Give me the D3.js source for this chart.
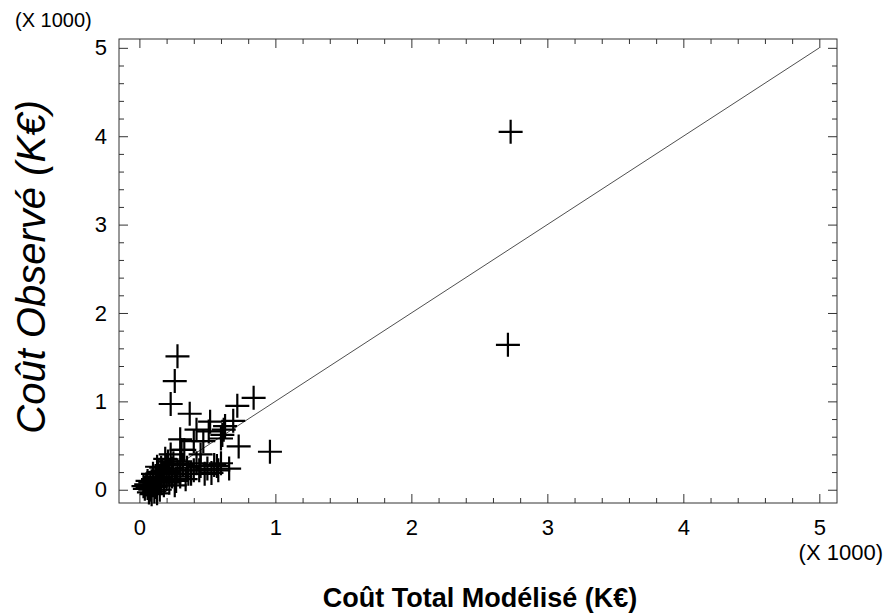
<!DOCTYPE html>
<html>
<head>
<meta charset="utf-8">
<script src="https://cdn.jsdelivr.net/npm/d3@7"></script>
<style>
  body { margin: 0; background: #fff; }
  text { font-family: Arial, "Liberation Sans", sans-serif; fill: #000; }
</style>
</head>
<body>
<div id="chart"></div>
<script>
// modelled total cost (x, thousands of K€) and observed cost (y)
const modelled = [
  2.73, 2.71,
  0.28, 0.26, 0.23, 0.37, 0.72, 0.84, 0.96, 0.69, 0.73, 0.66,
  0.51, 0.61, 0.62, 0.60, 0.63, 0.30, 0.40, 0.31, 0.45, 0.52, 0.42,
  0.35, 0.40, 0.45, 0.50, 0.55, 0.58, 0.42, 0.48, 0.38, 0.53, 0.60,
  0.03, 0.05, 0.06, 0.08, 0.08, 0.10, 0.10, 0.12, 0.12, 0.14, 0.14,
  0.16, 0.16, 0.18, 0.18, 0.20, 0.20, 0.22, 0.22, 0.24, 0.25, 0.27,
  0.28, 0.30, 0.30, 0.07, 0.09, 0.11, 0.13, 0.04, 0.06, 0.15, 0.19,
  0.23, 0.26, 0.32, 0.34, 0.33, 0.21, 0.17, 0.13, 0.36, 0.44, 0.57,
  0.10, 0.15, 0.24, 0.47
];
const observed = [
  4.05, 1.64,
  1.51, 1.23, 0.97, 0.86, 0.95, 1.04, 0.43, 0.78, 0.49, 0.24,
  0.66, 0.62, 0.68, 0.58, 0.72, 0.57, 0.55, 0.45, 0.40, 0.77, 0.68,
  0.25, 0.22, 0.27, 0.24, 0.28, 0.22, 0.30, 0.18, 0.18, 0.19, 0.30,
  0.04, 0.06, 0.02, 0.00, 0.08, 0.05, 0.12, 0.03, 0.15, 0.08, 0.20,
  0.10, 0.25, 0.05, 0.18, 0.12, 0.28, 0.08, 0.20, 0.15, 0.30, 0.10,
  0.22, 0.15, 0.32, -0.03, -0.05, -0.02, -0.04, 0.01, 0.10, 0.00, 0.35,
  0.40, 0.05, 0.28, 0.12, 0.45, 0.32, 0.22, 0.26, 0.18, 0.22, 0.27,
  0.18, 0.14, 0.24, 0.55
];
const majorTicks = [0, 1, 2, 3, 4, 5];
const minorTicks = d3.range(0, 26).map(d => d / 5).filter(d => d % 1 !== 0);
const linePoints = [0, 5];

const svgW = 886, svgH = 615;
const frame = { left: 119, right: 837, top: 39, bottom: 503 };

const svg = d3.select("#chart").append("svg")
    .attr("width", svgW)
    .attr("height", svgH);

// scales
const x = d3.scaleLinear().domain([-0.15, 5.13]).range([frame.left, frame.right]);
const y = d3.scaleLinear().domain([-0.15, 5.1]).range([frame.bottom, frame.top]);

// frame
svg.append("rect")
    .attr("x", frame.left)
    .attr("y", frame.top)
    .attr("width", frame.right - frame.left)
    .attr("height", frame.bottom - frame.top)
    .style("fill", "none")
    .style("stroke", "#333")
    .style("stroke-width", 1);

// helper to draw inward ticks on one side
function drawTicks(axisFn, scale, values, len, transform, withLabels) {
    const a = axisFn(scale).tickValues(values).tickSizeInner(-len).tickSizeOuter(0)
        .tickFormat(withLabels ? d3.format("d") : "");
    const g = svg.append("g")
        .attr("transform", transform)
        .call(a);
    g.select(".domain").remove();
    g.selectAll(".tick line").style("stroke", "#333");
    return g;
}

// minor ticks on all sides
drawTicks(d3.axisBottom, x, minorTicks, 5, "translate(0," + frame.bottom + ")", false);
drawTicks(d3.axisTop, x, minorTicks, 5, "translate(0," + frame.top + ")", false);
drawTicks(d3.axisLeft, y, minorTicks, 5, "translate(" + frame.left + ",0)", false);
drawTicks(d3.axisRight, y, minorTicks, 5, "translate(" + frame.right + ",0)", false);

// major ticks
const xAxisG = drawTicks(d3.axisBottom, x, majorTicks, 9, "translate(0," + frame.bottom + ")", true);
drawTicks(d3.axisTop, x, majorTicks, 9, "translate(0," + frame.top + ")", false);
const yAxisG = drawTicks(d3.axisLeft, y, majorTicks, 9, "translate(" + frame.left + ",0)", true);
drawTicks(d3.axisRight, y, majorTicks, 9, "translate(" + frame.right + ",0)", false);

xAxisG.selectAll(".tick text")
    .attr("y", 16)
    .style("font-size", "22px")
    .style("font-family", "Arial, 'Liberation Sans', sans-serif");
yAxisG.selectAll(".tick text")
    .attr("x", -12)
    .style("font-size", "22px")
    .style("font-family", "Arial, 'Liberation Sans', sans-serif");

// the y = x line
svg.append("line")
    .attr("x1", x(linePoints[0]))
    .attr("y1", y(linePoints[0]))
    .attr("x2", x(linePoints[1]))
    .attr("y2", y(linePoints[1]))
    .style("stroke", "#222")
    .style("stroke-width", 0.8);

// plus markers
svg.selectAll(".pt")
    .data(modelled.map((d, i) => ({ m: d, o: observed[i] })))
    .enter().append("path")
    .attr("class", "pt")
    .attr("transform", d => "translate(" + x(d.m) + "," + y(d.o) + ")")
    .attr("d", "M-12,0H12M0,-12V12")
    .style("fill", "none")
    .style("stroke", "#000")
    .style("stroke-width", 2.2);

// multiplier notes
svg.append("text")
    .attr("x", 15).attr("y", 27)
    .style("font-size", "20px")
    .text("(X 1000)");
svg.append("text")
    .attr("x", 883).attr("y", 560)
    .attr("text-anchor", "end")
    .style("font-size", "22px")
    .text("(X 1000)");

// axis titles
svg.append("text")
    .attr("transform", "translate(45,267) rotate(-90)")
    .attr("text-anchor", "middle")
    .style("font-size", "40px")
    .style("font-style", "italic")
    .text("Coût Observé (K€)");
svg.append("text")
    .attr("x", 480).attr("y", 607)
    .attr("text-anchor", "middle")
    .style("font-size", "27px")
    .style("font-weight", "bold")
    .text("Coût Total Modélisé (K€)");
</script>
</body>
</html>
